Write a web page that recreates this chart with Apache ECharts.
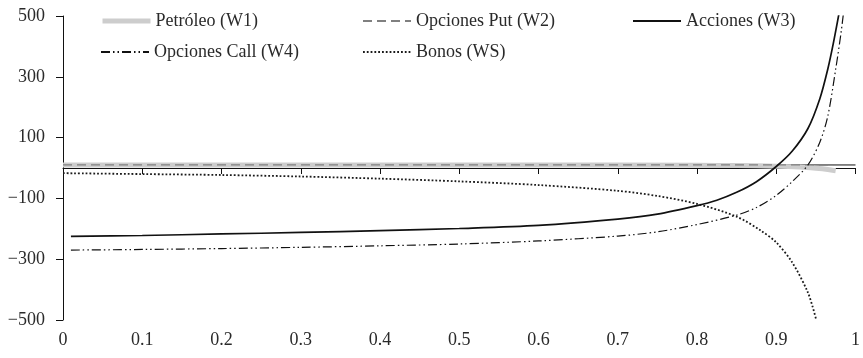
<!DOCTYPE html>
<html>
<head>
<meta charset="utf-8">
<script src="https://cdn.jsdelivr.net/npm/echarts@6/dist/echarts.min.js"></script>
<style>
  html, body { margin: 0; padding: 0; background: #fff; }
  #chart { width: 863px; height: 358px; }
</style>
</head>
<body>
<div id="chart"></div>
<script>
// Series names (legend order)
const nameW1 = 'Petróleo (W1)';
const nameW2 = 'Opciones Put (W2)';
const nameW3 = 'Acciones (W3)';
const nameW4 = 'Opciones Call (W4)';
const nameW5 = 'Bonos (WS)';

// Axis ticks
const xTicks = [0, 0.1, 0.2, 0.3, 0.4, 0.5, 0.6, 0.7, 0.8, 0.9, 1];
const yTicks = [-500, -300, -100, 100, 300, 500];

// Petróleo (W1)
const w1P = [0, 0.2, 0.4, 0.6, 0.8, 0.85, 0.9, 0.93, 0.95, 0.965, 0.975];
const w1V = [10, 10, 10, 10, 9, 8, 6, 3, -1, -5, -9];

// Opciones Put (W2)
const w2P = [0, 0.25, 0.5, 0.75, 0.972];
const w2V = [10, 10, 10, 10, 10];

// Level line continuing to the right edge
const baseP = [0.9, 1];
const baseV = [10, 10];

// Acciones (W3)
const w3P = [0.01, 0.1, 0.2, 0.3, 0.4, 0.5, 0.6, 0.7, 0.75, 0.8, 0.825, 0.85, 0.875, 0.9, 0.92, 0.94, 0.955, 0.965, 0.972, 0.98];
const w3V = [-225, -222, -217, -212, -206, -199, -189, -168, -152, -124, -106, -80, -45, 5, 55, 130, 228, 325, 410, 520];

// Opciones Call (W4)
const w4P = [0.01, 0.1, 0.2, 0.3, 0.4, 0.5, 0.6, 0.7, 0.75, 0.8, 0.85, 0.875, 0.9, 0.92, 0.94, 0.955, 0.965, 0.975, 0.982, 0.988];
const w4V = [-270, -268, -265, -261, -256, -250, -240, -224, -210, -186, -155, -130, -90, -45, 10, 85, 170, 325, 450, 580];

// Bonos (WS)
const w5P = [0, 0.1, 0.2, 0.3, 0.4, 0.5, 0.6, 0.7, 0.75, 0.8, 0.85, 0.88, 0.9, 0.92, 0.94, 0.95];
const w5V = [-17, -20, -23, -28, -35, -44, -56, -75, -92, -118, -160, -205, -245, -310, -410, -495];

const pair = (xs, ys) => xs.map((x, i) => [x, ys[i]]);

const serif = 'Liberation Serif';
const textColor = '#2a2a2a';

function legendAt(name, left, top, lineWidth) {
  const lg = {
    data: [name],
    left: left,
    top: top,
    itemWidth: 48,
    itemHeight: 14,
    padding: 0,
    selectedMode: false,
    itemStyle: { opacity: 0, borderWidth: 0 },
    textStyle: { fontFamily: serif, fontSize: 18, color: textColor }
  };
  if (lineWidth) lg.lineStyle = { width: lineWidth };
  return lg;
}

const chart = echarts.init(document.getElementById('chart'), null, { renderer: 'canvas' });

chart.setOption({
  animation: false,
  backgroundColor: '#fff',
  grid: { left: 63, right: 6, top: 16, bottom: 38 },
  legend: [
    legendAt(nameW1, 100, 12, 5),
    legendAt(nameW2, 362, 12),
    legendAt(nameW3, 632, 12),
    legendAt(nameW4, 100, 43),
    legendAt(nameW5, 362, 43)
  ],
  xAxis: {
    type: 'value',
    min: xTicks[0],
    max: xTicks[xTicks.length - 1],
    interval: 0.1,
    axisLine: { show: true, lineStyle: { color: '#111', width: 1 } },
    axisTick: { show: true, length: 6, lineStyle: { color: '#111' } },
    splitLine: { show: false },
    axisLabel: {
      margin: 11,
      fontFamily: serif,
      fontSize: 18,
      color: textColor,
      formatter: v => String(+(+v).toFixed(1))
    }
  },
  yAxis: {
    type: 'value',
    min: yTicks[0],
    max: yTicks[yTicks.length - 1],
    interval: 200,
    axisLine: { show: true, lineStyle: { color: '#111', width: 1 } },
    axisTick: { show: true, length: 7, lineStyle: { color: '#111' } },
    splitLine: { show: false },
    axisLabel: {
      margin: 18,
      fontFamily: serif,
      fontSize: 18,
      color: textColor,
      formatter: v => (v < 0 ? '\u2212' + Math.abs(v) : String(v))
    }
  },
  series: [
    {
      name: 'nivel',
      type: 'line',
      data: pair(baseP, baseV),
      symbol: 'none',
      silent: true,
      lineStyle: { color: '#111', width: 1 }
    },
    {
      name: nameW1,
      type: 'line',
      data: pair(w1P, w1V),
      symbol: 'none',
      smooth: 0.3,
      lineStyle: { color: '#cdcdcd', width: 5 },
      itemStyle: { color: '#cdcdcd' }
    },
    {
      name: nameW2,
      type: 'line',
      data: pair(w2P, w2V),
      symbol: 'none',
      lineStyle: { color: '#808080', width: 1.2, type: [9, 5] },
      itemStyle: { color: '#808080' }
    },
    {
      name: nameW5,
      type: 'line',
      data: pair(w5P, w5V),
      symbol: 'none',
      smooth: 0.3,
      lineStyle: { color: '#1a1a1a', width: 1.8, type: [1.8, 2] },
      itemStyle: { color: '#1a1a1a' }
    },
    {
      name: nameW4,
      type: 'line',
      data: pair(w4P, w4V),
      symbol: 'none',
      smooth: 0.3,
      lineStyle: { color: '#111', width: 1.2, type: [9, 3, 1.5, 3, 1.5, 3] },
      itemStyle: { color: '#111' }
    },
    {
      name: nameW3,
      type: 'line',
      data: pair(w3P, w3V),
      symbol: 'none',
      smooth: 0.3,
      lineStyle: { color: '#111', width: 1.7 },
      itemStyle: { color: '#111' }
    }
  ]
});
</script>
</body>
</html>
